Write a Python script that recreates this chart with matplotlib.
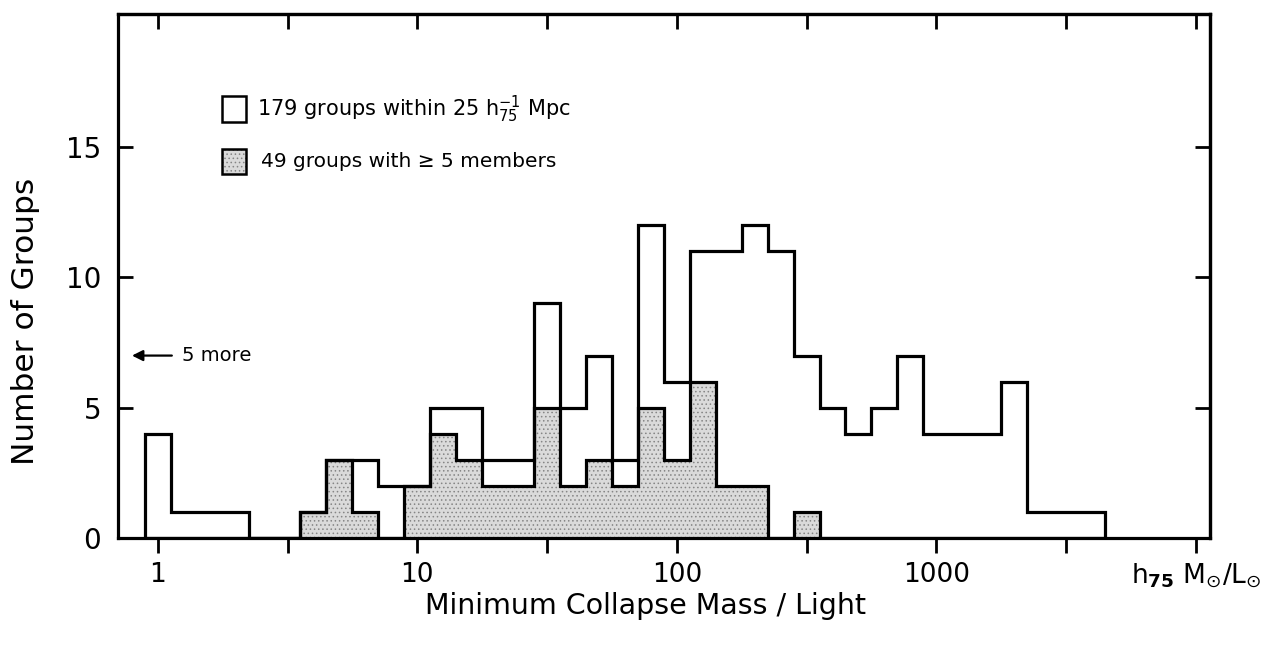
import numpy as np
import matplotlib.pyplot as plt
from matplotlib.patches import Rectangle
from matplotlib.ticker import NullLocator

# histogram bins: 0.1 dex wide, centred on log10(M/L) = 0.0, 0.1, ... 3.6
log_edges = np.round(np.arange(-0.05, 3.7, 0.1), 2)

# 179 groups within 25 h^-1 Mpc
all_groups = [4, 1, 1, 1, 0, 0, 1, 3, 3, 2, 2, 5, 5, 3, 3, 9, 5, 7, 3, 12,
              6, 11, 11, 12, 11, 7, 5, 4, 5, 7, 4, 4, 4, 6, 1, 1, 1]
# 49 groups with >= 5 members
rich_groups = [0, 0, 0, 0, 0, 0, 1, 3, 1, 0, 2, 4, 3, 2, 2, 5, 2, 3, 2, 5,
               3, 6, 2, 2, 0, 1, 0, 0, 0, 0, 0, 0, 0, 0, 0, 0, 0]

tick_exp = [0, 0.5, 1, 1.5, 2, 2.5, 3, 3.5, 4]
tick_labels = ["1", "", "10", "", "100", "", "1000", "",
               r"h$_{\mathbf{75}}$ M$_{\odot}$/L$_{\odot}$"]
y_ticks = [0, 5, 10, 15]

more_count = 5      # groups off the left edge
more_level = 7

plt.rcParams["font.family"] = ["DejaVu Sans"]
plt.rcParams["hatch.linewidth"] = 0.6

fig = plt.figure(figsize=(12.83, 6.47), dpi=100)
ax = fig.add_axes([0.092, 0.1685, 0.851, 0.8095])

edges = 10.0 ** log_edges

# shaded histogram (rich groups)
ax.stairs(rich_groups, edges, fill=True, facecolor="#dadada",
          edgecolor="#858585", hatch="....", linewidth=0, zorder=1)
ax.stairs(rich_groups, edges, baseline=0, color="black", linewidth=2.3, zorder=2)
# open histogram (all groups)
ax.stairs(all_groups, edges, baseline=0, color="black", linewidth=2.3, zorder=3)

ax.set_xscale("log")
ax.set_xlim(10 ** -0.153, 10 ** 4.054)
ax.set_ylim(0, 20.1)

ax.set_xticks([10.0 ** e for e in tick_exp], tick_labels)
ax.xaxis.set_minor_locator(NullLocator())
ax.set_yticks(y_ticks, [str(v) for v in y_ticks])

ax.tick_params(axis="x", direction="out", length=11, width=2, pad=6,
               labelsize=19)
ax.tick_params(axis="y", direction="in", length=11, width=2, pad=12,
               labelsize=20)
for s in ax.spines.values():
    s.set_linewidth(2.3)

top = ax.secondary_xaxis("top")
top.set_xticks([10.0 ** e for e in tick_exp], [""] * len(tick_exp))
top.xaxis.set_minor_locator(NullLocator())
top.tick_params(direction="in", length=11, width=2)
top.spines["top"].set_linewidth(2.3)

right = ax.secondary_yaxis("right")
right.set_yticks(y_ticks, [""] * len(y_ticks))
right.tick_params(direction="in", length=11, width=2)
right.spines["right"].set_linewidth(2.3)

ax.set_xlabel("Minimum Collapse Mass / Light", fontsize=20.5, va="center")
ax.xaxis.set_label_coords(0.483, -0.13)
ax.set_ylabel("Number of Groups", fontsize=22.5, va="center")
ax.yaxis.set_label_coords(-0.085, 0.414)

# "5 more" arrow
ax.annotate("", xy=(10 ** -0.11, more_level), xytext=(10 ** 0.065, more_level),
            arrowprops=dict(arrowstyle="-|>", color="black", lw=1.6,
                            mutation_scale=16))
ax.text(10 ** 0.094, more_level, f"{more_count} more", fontsize=14,
        va="center", ha="left")

# legend
ax.add_patch(Rectangle((0.095, 0.795), 0.0225, 0.048, transform=ax.transAxes,
                       facecolor="white", edgecolor="black", lw=1.8))
ax.add_patch(Rectangle((0.095, 0.695), 0.0225, 0.048, transform=ax.transAxes,
                       facecolor="#dadada", edgecolor="#858585", hatch="....",
                       lw=0))
ax.add_patch(Rectangle((0.095, 0.695), 0.0225, 0.048, transform=ax.transAxes,
                       fill=False, edgecolor="black", lw=1.8))
ax.text(0.127, 0.819, r"179 groups within 25 h$^{-1}_{75}$ Mpc",
        transform=ax.transAxes, fontsize=15, va="center", ha="left")
ax.text(0.131, 0.719, "49 groups with ≥ 5 members",
        transform=ax.transAxes, fontsize=14.5, va="center", ha="left")

fig.savefig("out.png", dpi=100)
